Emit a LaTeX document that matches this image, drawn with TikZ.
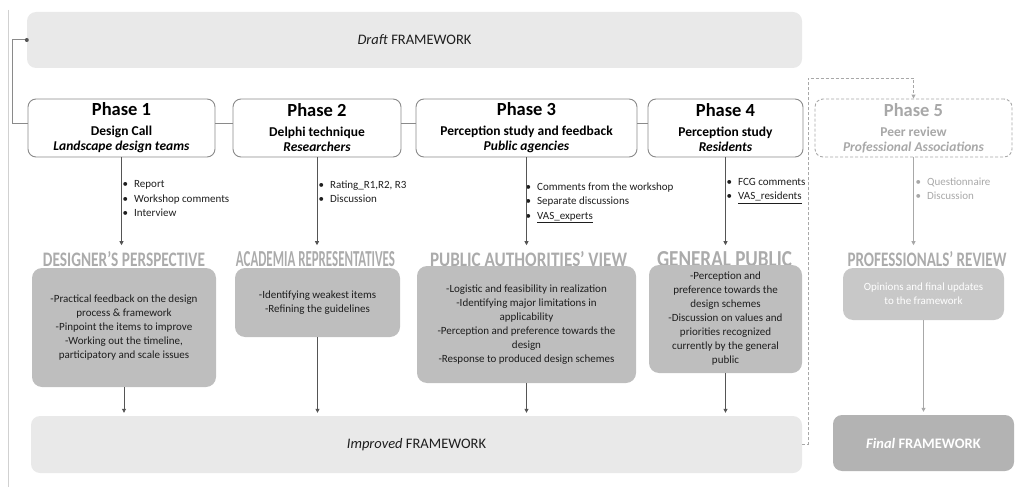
\documentclass[tikz,border=0pt]{standalone}
\usepackage{fontspec}
\usepackage{graphicx}
\setmainfont{Carlito}
\usetikzlibrary{arrows.meta,calc}
\definecolor{lightbox}{HTML}{E9E9E9}
\definecolor{midbox}{HTML}{BEBEBE}
\definecolor{finalbox}{HTML}{B3B3B3}
\definecolor{phaseline}{HTML}{8A8A8A}
\definecolor{ghost}{HTML}{A8A8A8}
\definecolor{headgray}{HTML}{ABABAB}
\definecolor{arrowgray}{HTML}{555555}
\definecolor{textdark}{HTML}{1E1E1E}
\newcommand{\hdtext}[2]{\resizebox{#1pt}{15pt}{\fontsize{20}{20}\selectfont\bfseries #2}}
\begin{document}
\begin{tikzpicture}[x=1pt,y=-1pt,
  frame/.style={rounded corners=9pt, fill=lightbox, draw=none, inner sep=0pt,
    font=\fontsize{14.5}{17}\selectfont, text=textdark},
  phasebox/.style={draw=phaseline, line width=0.9pt, rounded corners=8pt, fill=white,
    align=center, inner sep=0pt, minimum height=58pt,
    font=\fontsize{13.5}{15}\selectfont\bfseries, text=black},
  ghostbox/.style={phasebox, draw=ghost, dash pattern=on 3pt off 2pt, text=ghost},
  infobox/.style={rounded corners=10pt, fill=midbox, draw=none, inner sep=0pt,
    align=center, font=\fontsize{11}{14}\selectfont, text=textdark},
  heading/.style={inner xsep=0pt, inner ysep=6.5pt, text=headgray},
  bullets/.style={anchor=north west, inner sep=0pt, align=left,
    font=\fontsize{11}{14.5}\selectfont, text=textdark},
  arr/.style={draw=arrowgray, line width=0.8pt, -{Triangle[width=4pt,length=4pt]}},
  ghostarr/.style={draw=ghost, line width=0.8pt, -{Triangle[width=4pt,length=4pt]}},
  link/.style={draw=phaseline, line width=1pt},
  dashlink/.style={draw=ghost, line width=0.9pt, dash pattern=on 3pt off 2pt,
    -{Triangle[width=4pt,length=4pt]}}
]
\useasboundingbox (0,0) rectangle (1015,487);
\draw[black!18, line width=0.6pt] (8,10) -- (8,487);

% frameworks
\node[frame, minimum width=775pt, minimum height=56pt] (draft) at (414.5,40) {\textit{Draft} FRAMEWORK};
\node[frame, minimum width=771pt, minimum height=57pt] (imp) at (416.5,444.5) {\textit{Improved} FRAMEWORK};
\node[frame, fill=finalbox, text=white, minimum width=181pt, minimum height=56pt,
  font=\fontsize{14.5}{17}\selectfont\bfseries] (fin) at (923.5,443) {\textit{Final} FRAMEWORK};

% phases
\node[phasebox, minimum width=187pt] (p1) at (121.5,128) {{\fontsize{18.5}{19}\selectfont Phase 1}\\[5pt] Design Call\\ \textit{Landscape design teams}};
\node[phasebox, minimum width=168pt] (p2) at (317,128) {{\fontsize{18.5}{19}\selectfont Phase 2}\\[5pt] Delphi technique\\ \textit{Researchers}};
\node[phasebox, minimum width=221pt] (p3) at (526.5,128) {{\fontsize{18.5}{19}\selectfont Phase 3}\\[5pt] Perception study and feedback\\ \textit{Public agencies}};
\node[phasebox, minimum width=155pt] (p4) at (725.5,128) {{\fontsize{18.5}{19}\selectfont Phase 4}\\[5pt] Perception study\\ \textit{Residents}};
\node[ghostbox, minimum width=197pt] (p5) at (913.5,128) {{\fontsize{18.5}{19}\selectfont Phase 5}\\[5pt] Peer review\\ \textit{Professional Associations}};

% connectors between phases
\draw[link] ($(p1.east)+(0,-4.5)$) -- ($(p2.west)+(0,-4.5)$);
\draw[link] ($(p2.east)+(0,-4.5)$) -- ($(p3.west)+(0,-4.5)$);
\draw[link] ($(p3.east)+(0,-4.5)$) -- ($(p4.west)+(0,-4.5)$);

% left connector
\coordinate (lk) at (12,40);
\draw[link] (draft.west) -- (lk) |- ($(p1.west)+(0,-4.5)$);
\fill[arrowgray] (draft.west) circle (2pt);

% headings
\node[heading] (h1) at (124,259.5) {\hdtext{162}{DESIGNER'S PERSPECTIVE}};
\node[heading] (h2) at (315.5,259.5) {\hdtext{159}{ACADEMIA REPRESENTATIVES}};
\node[heading] (h3) at (528.5,259.5) {\hdtext{197}{PUBLIC AUTHORITIES' VIEW}};
\node[heading] (h4) at (724.5,259.5) {\hdtext{135}{GENERAL PUBLIC}};
\node[heading] (h5) at (927,259.5) {\hdtext{159}{PROFESSIONALS' REVIEW}};

% bullet lists
\node[bullets] (l1) at (122.5,180.5) {\textbullet\hspace{6pt}Report\\ \textbullet\hspace{6pt}Workshop comments\\ \textbullet\hspace{6pt}Interview};
\node[bullets] (l2) at (318.5,180.5) {\textbullet\hspace{6pt}Rating\_R1,R2, R3\\ \textbullet\hspace{6pt}Discussion};
\node[bullets] (l3) at (525.5,182.5) {\textbullet\hspace{6pt}Comments from the workshop\\ \textbullet\hspace{6pt}Separate discussions\\ \textbullet\hspace{6pt}\underline{VAS\_experts}};
\node[bullets] (l4) at (726.5,178) {\textbullet\hspace{6pt}FCG comments\\ \textbullet\hspace{6pt}\underline{VAS\_residents}};
\node[bullets, text=ghost, font=\fontsize{11}{13.5}\selectfont] (l5) at (915.5,178) {\textbullet\hspace{6pt}Questionnaire\\ \textbullet\hspace{6pt}Discussion};

% info boxes
\node[infobox, minimum width=184pt, minimum height=119pt] (b1) at (124,327.5) {-Practical feedback on the design\\ process \& framework\\ -Pinpoint the items to improve\\ -Working out the timeline,\\ participatory and scale issues};
\node[infobox, minimum width=165pt, minimum height=69pt] (b2) at (317.5,302.5) {-Identifying weakest items\\ -Refining the guidelines};
\node[infobox, minimum width=219pt, minimum height=117pt] (b3) at (526.5,324.5) {-Logistic and feasibility in realization\\ -Identifying major limitations in\\ applicability\\ -Perception and preference towards the\\ design\\ -Response to produced design schemes};
\node[infobox, minimum width=153pt, minimum height=108pt] (b4) at (725.5,319) {-Perception and\\ preference towards the\\ design schemes\\ -Discussion on values and\\ priorities recognized\\ currently by the general\\ public};
\node[infobox, fill=midbox!85!white, text=white, minimum width=161pt, minimum height=52pt] (b5) at (923.5,294) {Opinions and final updates\\ to the framework};

% arrows phase -> headings
\draw[arr] (p1.south) -- (p1.south |- h1.north);
\draw[arr] (p2.south) -- (p2.south |- h2.north);
\draw[arr] (p3.south) -- (p3.south |- h3.north);
\draw[arr] (p4.south) -- (p4.south |- h4.north);
\draw[ghostarr] (p5.south) -- (p5.south |- h5.north);

% arrows boxes -> frameworks
\draw[arr, shorten >=3pt] (b1.south) -- (b1.south |- imp.north);
\draw[arr, shorten >=3pt] (b2.south) -- (b2.south |- imp.north);
\draw[arr, shorten >=3pt] (b3.south) -- (b3.south |- imp.north);
\draw[arr, shorten >=3pt] (b4.south) -- (b4.south |- imp.north);
\draw[ghostarr, shorten >=3pt] (b5.south) -- (b5.south |- fin.north);

% dashed feedback to phase 5
\coordinate (dk) at (808,78);
\draw[dashlink] (imp.east) -| (dk) -| (p5.north);
\end{tikzpicture}
\end{document}
